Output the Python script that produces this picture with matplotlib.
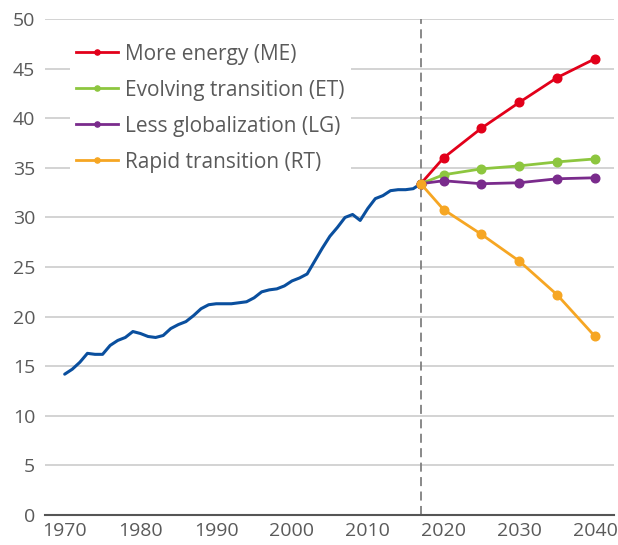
import matplotlib
matplotlib.use('Agg')
import matplotlib.pyplot as plt

# historical CO2 emissions (Gt)
hist_years = list(range(1970, 2018))
hist_vals = [14.2, 14.7, 15.4, 16.3, 16.2, 16.2, 17.1, 17.6, 17.9, 18.5,
             18.3, 18.0, 17.9, 18.1, 18.8, 19.2, 19.5, 20.1, 20.8, 21.2,
             21.3, 21.3, 21.3, 21.4, 21.5, 21.9, 22.5, 22.7, 22.8, 23.1,
             23.6, 23.9, 24.3, 25.6, 26.9, 28.1, 29.0, 30.0, 30.3, 29.7,
             30.9, 31.9, 32.2, 32.7, 32.8, 32.8, 32.9, 33.4]

base_year = 2017
scen_years = [2017, 2020, 2025, 2030, 2035, 2040]
me = [33.4, 36.0, 39.0, 41.6, 44.1, 46.0]
et = [33.4, 34.3, 34.9, 35.2, 35.6, 35.9]
lg = [33.4, 33.7, 33.4, 33.5, 33.9, 34.0]
rt = [33.4, 30.8, 28.3, 25.6, 22.2, 18.0]

labels = ['More energy (ME)', 'Evolving transition (ET)',
          'Less globalization (LG)', 'Rapid transition (RT)']
colors = ['#e2001a', '#8dc63f', '#7a2b8c', '#f6a623']

xticks = [1970, 1980, 1990, 2000, 2010, 2020, 2030, 2040]
yticks = list(range(0, 51, 5))

plt.rcParams['font.family'] = ['Open Sans', 'DejaVu Sans']
txtcol = '#5a5a5a'

fg = plt.figure(figsize=(6.18, 5.45), dpi=100)
ax = fg.add_axes([0.0728, 0.055, 0.9207, 0.910])

ax.plot(hist_years, hist_vals, color='#0a4f9e', lw=2.2, solid_capstyle='round', zorder=3)

for vals, lab, c in zip([me, et, lg, rt], labels, colors):
    ax.plot(scen_years, vals, color=c, lw=2.0, marker='o', ms=6.2, label=lab, zorder=4)

ax.axvline(base_year, color='#808080', lw=1.3, linestyle=(0, (5, 3)), zorder=2)

ax.set_xlim(1967.4, 2042.5)
ax.set_ylim(0, 50)
ax.set_xticks(xticks)
ax.set_yticks(yticks)
ax.grid(True, axis='y', color='#cccccc', lw=1.2)
ax.set_axisbelow(True)
for s in ['top', 'right', 'left']:
    ax.spines[s].set_visible(False)
ax.spines['bottom'].set_color('#555555')
ax.spines['bottom'].set_linewidth(1.5)
ax.tick_params(axis='both', length=0, labelsize=14, labelcolor=txtcol)
ax.tick_params(axis='x', pad=5)
ax.tick_params(axis='y', pad=7)

leg = ax.legend(loc='upper left', bbox_to_anchor=(0.026, 0.984), frameon=True,
                fontsize=15, handlelength=2.0, handletextpad=0.33,
                labelspacing=0.72, markerscale=0.6, borderpad=0.3)
leg.get_frame().set_edgecolor('none')
leg.get_frame().set_facecolor('white')
leg.get_frame().set_alpha(1)
for t in leg.get_texts():
    t.set_color(txtcol)

fg.savefig('out.png', dpi=100)
